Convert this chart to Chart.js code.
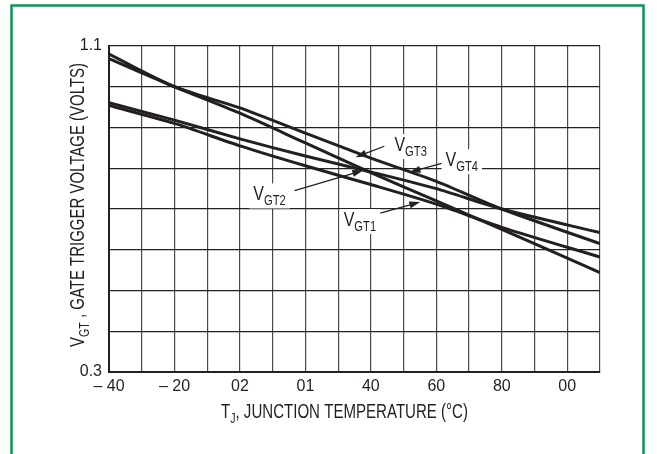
<!DOCTYPE html>
<html>
<head>
<meta charset="utf-8">
<script src="https://cdn.jsdelivr.net/npm/chart.js@4"></script>
<style>
  html, body { margin: 0; padding: 0; background: #fff; }
  canvas { display: block; }
</style>
</head>
<body>
<canvas id="chart" width="657" height="454"></canvas>
<script>
// junction temperature (deg C) where the curves were read
const temps = [-40, -20, 0, 20, 40, 60, 80, 110];
// gate trigger voltage, volts
const vgt1 = [0.954, 0.910, 0.855, 0.806, 0.760, 0.712, 0.655, 0.582];
const vgt2 = [0.961, 0.918, 0.872, 0.830, 0.791, 0.750, 0.700, 0.642];
const vgt3 = [1.069, 1.000, 0.935, 0.862, 0.789, 0.720, 0.650, 0.544];
const vgt4 = [1.080, 1.000, 0.948, 0.886, 0.825, 0.768, 0.700, 0.615];

// tick labels as printed on the original
const xTickValues = [-40, -20, 0, 20, 40, 60, 80, 100];
const xTickLabels = ["\u2013 40", "\u2013 20", "02", "01", "40", "60", "80", "00"];
const yTickValues = [0.3, 1.1];
const yTickLabels = ["0.3", "1.1"];

const seriesNames = ["GT1", "GT2", "GT3", "GT4"];

const INK = "#231f20";
const FONT = "'Liberation Sans', Arial, sans-serif";
const SQUEEZE = 0.8; // the original uses a condensed face

// curve labels: text anchor, arrow tail and arrow tip, in data units
const callouts = [
  { sub: "GT3", text: [47.2, 0.842], tail: [44.1, 0.854], tip: [35.3, 0.827] },
  { sub: "GT4", text: [62.8, 0.805], tail: [61.6, 0.812], tip: [51.8, 0.790] },
  { sub: "GT2", text: [4.1, 0.721], tail: [16.7, 0.745], tip: [37.7, 0.795] },
  { sub: "GT1", text: [31.7, 0.658], tail: [42.9, 0.690], tip: [55.1, 0.717] }
];

function toPoints(vals) {
  return temps.map((t, i) => ({ x: t, y: vals[i] }));
}

// width of main + subscript + rest, unsqueezed
function measureSub(ctx, main, sub, rest, size, subSize) {
  ctx.font = size + "px " + FONT;
  const w1 = ctx.measureText(main).width;
  const w3 = rest ? ctx.measureText(rest).width : 0;
  ctx.font = subSize + "px " + FONT;
  const w2 = ctx.measureText(sub).width;
  return w1 + w2 + w3;
}

// draws main + subscript + rest at origin (0, 0), baseline 0
function drawSub(ctx, main, sub, rest, size, subSize) {
  ctx.font = size + "px " + FONT;
  const w1 = ctx.measureText(main).width;
  ctx.fillText(main, 0, 0);
  ctx.font = subSize + "px " + FONT;
  const w2 = ctx.measureText(sub).width;
  ctx.fillText(sub, w1, 5);
  if (rest) {
    ctx.font = size + "px " + FONT;
    ctx.fillText(rest, w1 + w2, 0);
  }
}

function arrow(ctx, x1, y1, x2, y2) {
  const a = Math.atan2(y2 - y1, x2 - x1);
  const len = 11, half = 3.5;
  ctx.beginPath();
  ctx.moveTo(x1, y1);
  ctx.lineTo(x2 - Math.cos(a) * len * 0.8, y2 - Math.sin(a) * len * 0.8);
  ctx.lineWidth = 1.3;
  ctx.strokeStyle = INK;
  ctx.stroke();
  ctx.beginPath();
  ctx.moveTo(x2, y2);
  ctx.lineTo(x2 - Math.cos(a) * len - Math.sin(a) * half, y2 - Math.sin(a) * len + Math.cos(a) * half);
  ctx.lineTo(x2 - Math.cos(a) * len + Math.sin(a) * half, y2 - Math.sin(a) * len - Math.cos(a) * half);
  ctx.closePath();
  ctx.fillStyle = INK;
  ctx.fill();
}

const deco = {
  id: "deco",
  beforeDraw(chart) {
    const ctx = chart.ctx;
    ctx.save();
    ctx.fillStyle = "#fff";
    ctx.fillRect(0, 0, chart.width, chart.height);
    ctx.restore();
  },
  afterDatasetsDraw(chart) {
    const ctx = chart.ctx;
    const xs = chart.scales.x, ys = chart.scales.y;
    ctx.textBaseline = "alphabetic";
    callouts.forEach(c => {
      const tx = xs.getPixelForValue(c.text[0]);
      const ty = ys.getPixelForValue(c.text[1]);
      const w = measureSub(ctx, "V", c.sub, "", 20, 14) * SQUEEZE;
      ctx.save();
      ctx.fillStyle = "#fff";
      ctx.fillRect(tx - 4, ty - 17, w + 8, 25);
      ctx.fillStyle = INK;
      ctx.translate(tx, ty);
      ctx.scale(SQUEEZE, 1);
      drawSub(ctx, "V", c.sub, "", 20, 14);
      ctx.restore();
      arrow(ctx, xs.getPixelForValue(c.tail[0]), ys.getPixelForValue(c.tail[1]),
        xs.getPixelForValue(c.tip[0]), ys.getPixelForValue(c.tip[1]));
    });
  },
  afterDraw(chart) {
    const ctx = chart.ctx;
    const area = chart.chartArea;
    ctx.fillStyle = INK;
    ctx.textBaseline = "alphabetic";

    // x axis title, squeezed to the width it has on the original
    const xRest = ", JUNCTION TEMPERATURE (\u00b0C)";
    const xw = measureSub(ctx, "T", "J", xRest, 20, 14);
    const xk = 247 / xw;
    ctx.save();
    ctx.translate((area.left + area.right) / 2 - 247 / 2 - 10, 418);
    ctx.scale(xk, 1);
    drawSub(ctx, "T", "J", xRest, 20, 14);
    ctx.restore();

    // y axis title
    const yRest = " , GATE TRIGGER VOLTAGE (VOLTS)";
    const yw = measureSub(ctx, "V", "GT", yRest, 21, 15);
    const yLen = 284;
    const yk = yLen / yw;
    ctx.save();
    ctx.translate(84, 205);
    ctx.rotate(-Math.PI / 2);
    ctx.translate(-yLen / 2, 0);
    ctx.scale(yk, 1);
    drawSub(ctx, "V", "GT", yRest, 21, 15);
    ctx.restore();

    // green frame
    ctx.save();
    ctx.strokeStyle = "#0b9550";
    ctx.lineWidth = 2.5;
    ctx.beginPath();
    ctx.moveTo(11.5, 470);
    ctx.lineTo(11.5, 5.5);
    ctx.lineTo(643.5, 5.5);
    ctx.lineTo(643.5, 470);
    ctx.stroke();
    ctx.restore();
  }
};

Chart.defaults.font.family = FONT;
Chart.defaults.color = INK;

const ctx = document.getElementById("chart").getContext("2d");
new Chart(ctx, {
  type: "line",
  data: {
    datasets: [vgt1, vgt2, vgt3, vgt4].map((vals, i) => ({
      label: "V" + seriesNames[i],
      data: toPoints(vals),
      borderColor: INK,
      borderWidth: 3,
      pointRadius: 0,
      fill: false,
      tension: 0.25
    }))
  },
  options: {
    responsive: false,
    animation: false,
    layout: { padding: { left: 0, top: 46, right: 57, bottom: 0 } },
    plugins: {
      legend: { display: false },
      tooltip: { enabled: false }
    },
    scales: {
      x: {
        type: "linear",
        min: -40,
        max: 110,
        afterFit: (scale) => { scale.height = 82; },
        grid: { color: "#4a4a4a", lineWidth: 1.2, drawTicks: false },
        border: { color: INK, width: 2 },
        ticks: {
          stepSize: 10,
          autoSkip: false,
          maxRotation: 0,
          padding: 5,
          font: { size: 16 },
          color: INK,
          callback: (v) => {
            const i = xTickValues.findIndex(t => Math.abs(t - v) < 1e-6);
            return i >= 0 ? xTickLabels[i] : "";
          }
        }
      },
      y: {
        type: "linear",
        min: 0.3,
        max: 1.1,
        afterFit: (scale) => { scale.width = 109; },
        grid: { color: "#222", lineWidth: 1.2, drawTicks: false },
        border: { color: INK, width: 2 },
        ticks: {
          stepSize: 0.1,
          autoSkip: false,
          padding: 7,
          font: { size: 16 },
          color: INK,
          callback: (v) => {
            const i = yTickValues.findIndex(t => Math.abs(t - v) < 1e-6);
            return i >= 0 ? yTickLabels[i] : "";
          }
        }
      }
    }
  },
  plugins: [deco]
});
</script>
</body>
</html>
